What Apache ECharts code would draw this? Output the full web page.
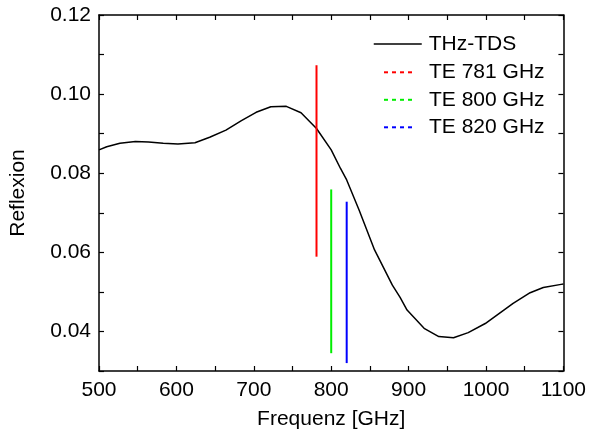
<!DOCTYPE html>
<html>
<head>
<meta charset="utf-8">
<script src="https://cdn.jsdelivr.net/npm/echarts@6/dist/echarts.min.js"></script>
<style>
  html, body { margin: 0; padding: 0; background: #fff; }
  #chartBox { width: 589px; height: 439px; }
</style>
</head>
<body>
<div id="chartBox"></div>
<script>
// THz-TDS reflection curve
const freqTds = [500, 510, 527, 547, 564, 583, 602, 624, 643, 664, 684, 703, 722, 742, 761, 781, 800, 812, 820, 836, 856, 879, 889, 898, 920, 939, 958, 977, 999, 1035, 1057, 1074, 1097, 1100];
const reflTds = [0.0859, 0.0867, 0.0876, 0.0880, 0.0879, 0.0876, 0.0874, 0.0877, 0.0891, 0.0909, 0.0933, 0.0954, 0.0968, 0.0969, 0.0953, 0.0913, 0.0859, 0.0812, 0.0783, 0.0707, 0.0606, 0.0517, 0.0486, 0.0454, 0.0408, 0.0387, 0.0384, 0.0397, 0.0420, 0.0471, 0.0498, 0.0511, 0.0519, 0.0520];

// TE simulations: vertical spread at a single frequency
const te781 = [[781, 0.0589], [781, 0.1073]];
const te800 = [[800, 0.0345], [800, 0.0759]];
const te820 = [[820, 0.0320], [820, 0.0728]];

const fontName = 'Liberation Sans, Arial, sans-serif';
const black = '#000';
const fs = 21;

const chart = echarts.init(document.getElementById('chartBox'));

const axisCommon = {
  axisLine: { show: true, lineStyle: { color: black, width: 1.5 } },
  axisTick: { show: true, inside: true, length: 5, lineStyle: { color: black, width: 1.2 } },
  splitLine: { show: false }
};

// hide the dot ECharts puts in the middle of line legend icons
const noDot = { opacity: 0 };

const option = {
  animation: false,
  textStyle: { fontFamily: fontName },
  grid: { left: 97, top: 15, right: 25, bottom: 68 },
  legend: [
    {
      left: 373,
      top: 33.5,
      padding: 0,
      itemWidth: 48,
      itemHeight: 14,
      textStyle: { fontSize: fs, color: black, fontFamily: fontName, lineHeight: 21, padding: [0, 0, 0, 2] },
      data: [
        { name: 'THz-TDS', itemStyle: noDot, lineStyle: { width: 1.5, color: black } }
      ]
    },
    {
      left: 383,
      top: 61.8,
      padding: 0,
      orient: 'vertical',
      itemWidth: 29,
      itemHeight: 14,
      itemGap: 6.5,
      textStyle: { fontSize: fs, color: black, fontFamily: fontName, lineHeight: 21, padding: [0, 0, 0, 11] },
      data: [
        { name: 'TE 781 GHz', itemStyle: noDot, lineStyle: { type: [4, 4], width: 2, color: '#ff0000' } },
        { name: 'TE 800 GHz', itemStyle: noDot, lineStyle: { type: [4, 4], width: 2, color: '#00ee00' } },
        { name: 'TE 820 GHz', itemStyle: noDot, lineStyle: { type: [4, 4], width: 2, color: '#0000ff' } }
      ]
    }
  ],
  xAxis: [
    Object.assign({}, axisCommon, {
      type: 'value',
      min: 500,
      max: 1100,
      interval: 50,
      name: 'Frequenz [GHz]',
      nameLocation: 'middle',
      nameGap: 38,
      nameTextStyle: { fontSize: fs, color: black, fontFamily: fontName },
      axisLabel: {
        fontSize: fs,
        color: black,
        margin: 9,
        fontFamily: fontName,
        formatter: v => (v % 100 === 0 ? String(v) : '')
      }
    }),
    Object.assign({}, axisCommon, {
      type: 'value',
      position: 'top',
      min: 500,
      max: 1100,
      interval: 50,
      axisLabel: { show: false }
    })
  ],
  yAxis: [
    Object.assign({}, axisCommon, {
      type: 'value',
      min: 0.03,
      max: 0.12,
      interval: 0.01,
      name: 'Reflexion',
      nameLocation: 'middle',
      nameGap: 70,
      nameTextStyle: { fontSize: fs, color: black, fontFamily: fontName },
      axisLabel: {
        fontSize: fs,
        color: black,
        margin: 8,
        fontFamily: fontName,
        formatter: v => (Math.round(v * 100) % 2 === 0 ? v.toFixed(2) : '')
      }
    }),
    Object.assign({}, axisCommon, {
      type: 'value',
      position: 'right',
      min: 0.03,
      max: 0.12,
      interval: 0.01,
      axisLabel: { show: false }
    })
  ],
  series: [
    {
      name: 'THz-TDS',
      type: 'line',
      data: freqTds.map((f, i) => [f, reflTds[i]]),
      symbol: 'none',
      lineStyle: { color: black, width: 1.5 },
      itemStyle: { color: black }
    },
    {
      name: 'TE 781 GHz',
      type: 'line',
      data: te781,
      symbol: 'none',
      lineStyle: { color: '#ff0000', width: 2 },
      itemStyle: { color: '#ff0000' }
    },
    {
      name: 'TE 800 GHz',
      type: 'line',
      data: te800,
      symbol: 'none',
      lineStyle: { color: '#00ee00', width: 2 },
      itemStyle: { color: '#00ee00' }
    },
    {
      name: 'TE 820 GHz',
      type: 'line',
      data: te820,
      symbol: 'none',
      lineStyle: { color: '#0000ff', width: 2 },
      itemStyle: { color: '#0000ff' }
    }
  ]
};

chart.setOption(option);
</script>
</body>
</html>
